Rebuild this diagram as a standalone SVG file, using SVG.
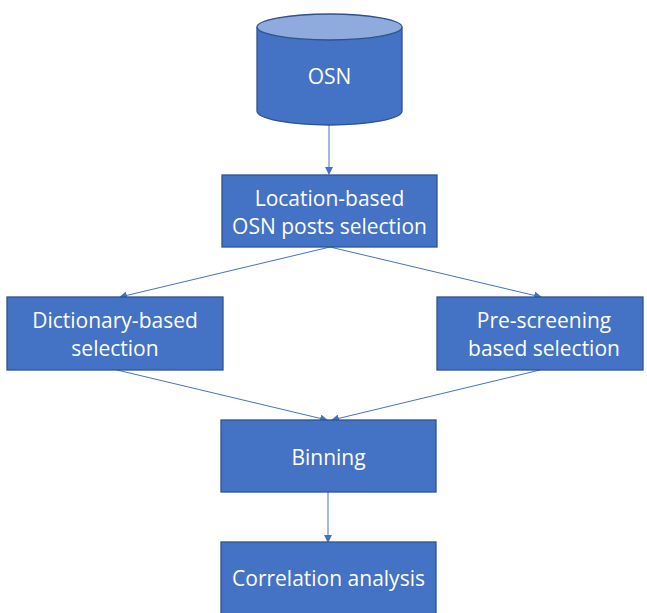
<svg xmlns="http://www.w3.org/2000/svg" width="647" height="613" viewBox="0 0 647 613">
<style>
.box{fill:#4472C4;stroke:#2F528F;stroke-width:1.3}
.t{font-family:"Open Sans","Noto Sans",sans-serif;font-size:21px;fill:#FFFFFF;text-anchor:middle}
.c{stroke:#4472C4;stroke-width:1;fill:none;marker-end:url(#ah)}
</style>
<defs>
<marker id="ah" markerWidth="8" markerHeight="8" refX="7" refY="4" orient="auto" markerUnits="userSpaceOnUse">
<path d="M0,0 L8,4 L0,8 Z" fill="#4472C4"/>
</marker>
</defs>
<rect width="647" height="613" fill="#FFFFFF"/>
<g id="connectors">
<line class="c" x1="329" y1="125" x2="329" y2="174"/>
<line class="c" x1="330" y1="247" x2="120" y2="297"/>
<line class="c" x1="330" y1="247" x2="541" y2="297"/>
<line class="c" x1="117" y1="370" x2="327" y2="420"/>
<line class="c" x1="540" y1="370" x2="332" y2="420"/>
<line class="c" x1="328" y1="492" x2="328" y2="542"/>
</g>
<g id="osn">
<path class="box" d="M257,27 L257,111 A72.5,14 0 0 0 402,111 L402,27"/>
<ellipse cx="329.5" cy="27" rx="72.5" ry="13" fill="#8FAADC" stroke="#2F528F" stroke-width="1.3"/>
<text class="t" x="329.5" y="84">OSN</text>
</g>
<g id="location">
<rect class="box" x="222" y="175" width="215" height="72"/>
<text class="t" x="329.5" y="206">Location-based</text>
<text class="t" x="329.5" y="234">OSN posts selection</text>
</g>
<g id="dictionary">
<rect class="box" x="7" y="297" width="216" height="73"/>
<text class="t" x="115" y="328">Dictionary-based</text>
<text class="t" x="115" y="356">selection</text>
</g>
<g id="prescreening">
<rect class="box" x="437" y="297" width="206" height="73"/>
<text class="t" x="544" y="328">Pre-screening</text>
<text class="t" x="544" y="356">based selection</text>
</g>
<g id="binning">
<rect class="box" x="221" y="420" width="215" height="72"/>
<text class="t" x="328.5" y="465">Binning</text>
</g>
<g id="correlation">
<rect class="box" x="221" y="542" width="215" height="80"/>
<text class="t" x="328.5" y="586">Correlation analysis</text>
</g>
</svg>
